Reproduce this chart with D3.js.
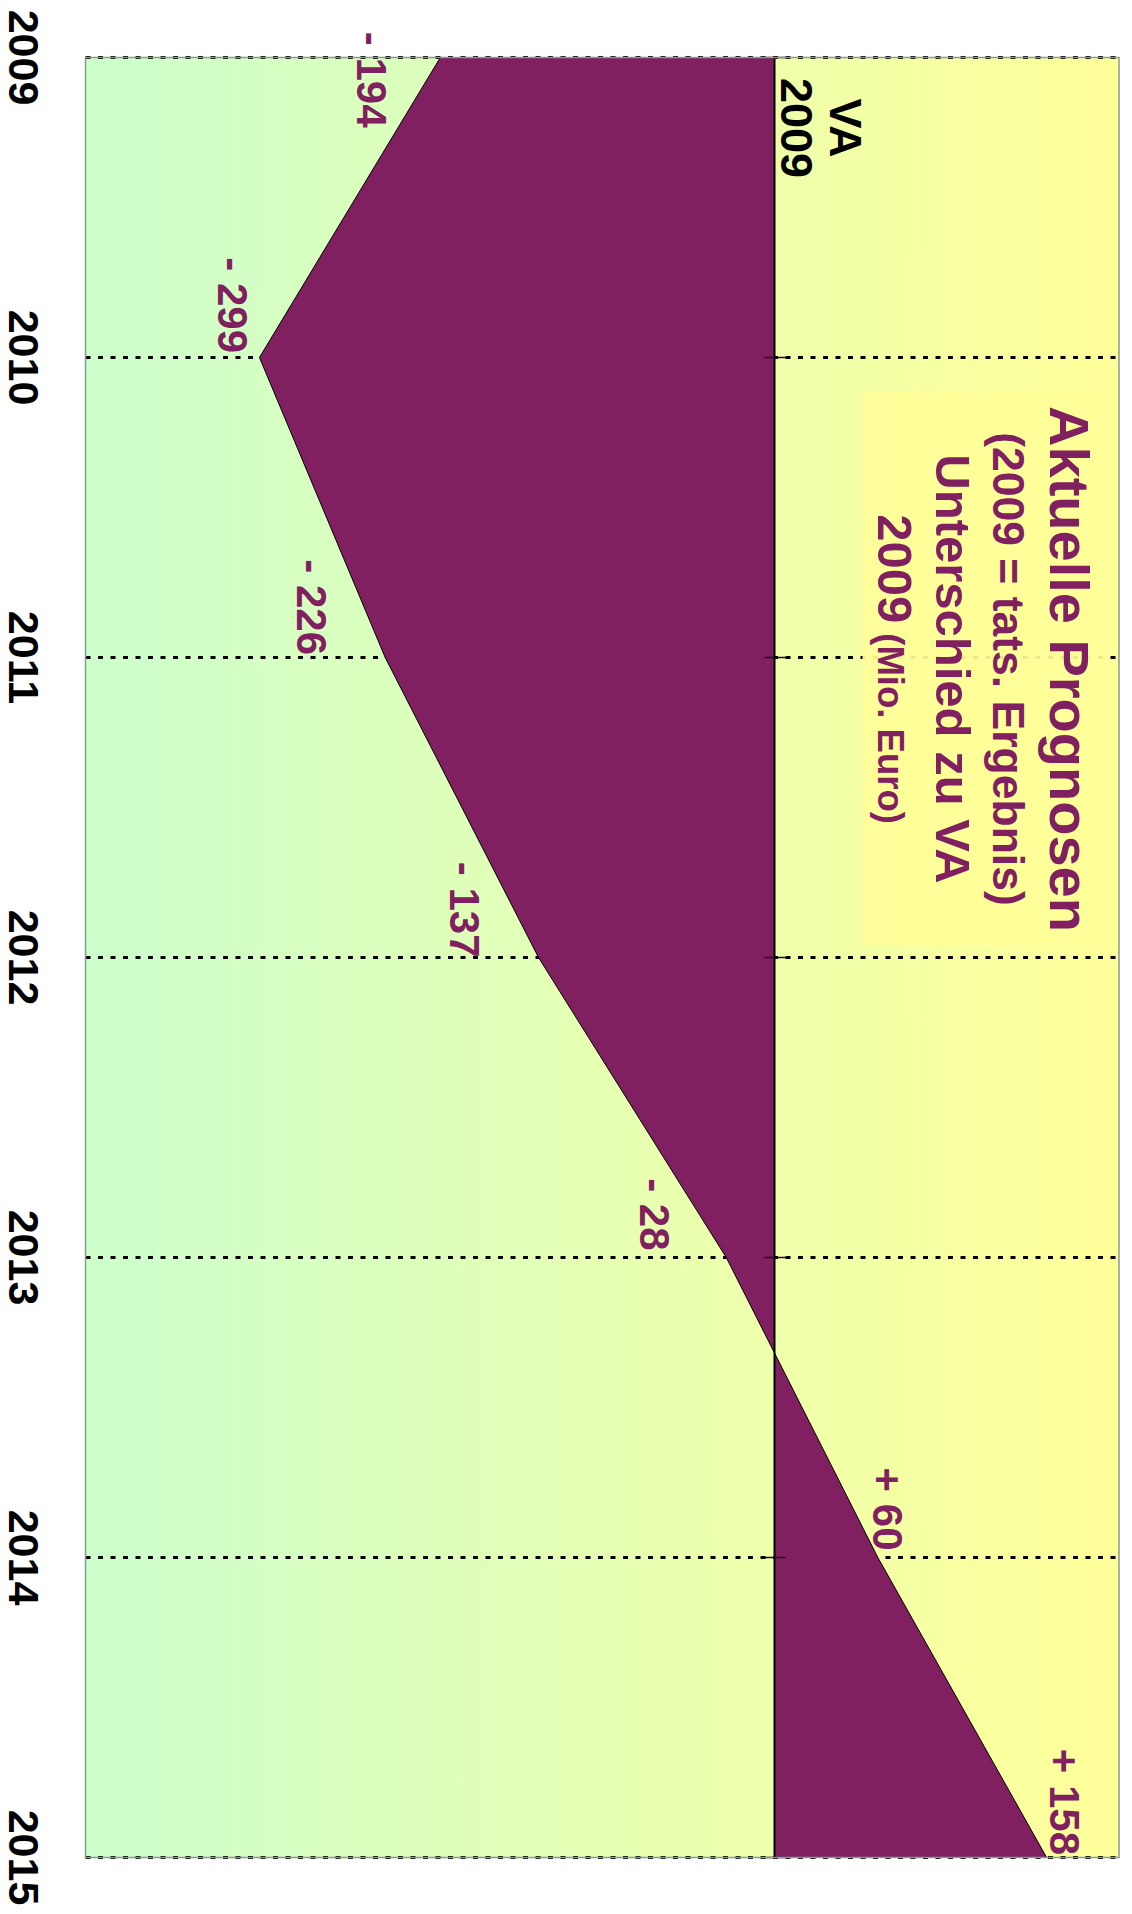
<!DOCTYPE html>
<html>
<head>
<meta charset="utf-8">
<script src="https://cdn.jsdelivr.net/npm/d3@7"></script>
<style>
  html, body { margin: 0; padding: 0; background: #ffffff; }
  svg { display: block; }
  text { font-family: "Liberation Sans", Arial, sans-serif; font-weight: bold; }
</style>
</head>
<body>
<svg id="chart" width="1132" height="1914"></svg>
<script>
// Forecast difference to the 2009 budget (Mio. Euro), per year
const years = [2009, 2010, 2011, 2012, 2013, 2014, 2015];
const diffs = [-194, -299, -226, -137, -28, 60, 158];
const valueDomain = [-400, 200];

// Text
const baseLabel = ["VA", "2009"];
const titleLines = ["Aktuelle Prognosen", "(2009 = tats. Ergebnis)", "Unterschied zu VA"];
const unitLine = ["2009", " (Mio. Euro)"];

const PURPLE = "#802060";
const data = years.map((yr, i) => ({ year: yr, value: diffs[i] }));

const svg = d3.select("#chart");
const plot = { left: 85.5, right: 1119, top: 57.5, bottom: 1857.5 };

// The chart is laid out on its side: years run downwards, values run left to right
const x = d3.scaleLinear().domain(valueDomain).range([plot.left, plot.right]);
const y = d3.scaleLinear().domain(d3.extent(years)).range([plot.top, plot.bottom]);

// Background gradient (green on the negative side to yellow on the positive side)
const defs = svg.append("defs");
const grad = defs.append("linearGradient")
  .attr("id", "bg").attr("x1", "0%").attr("x2", "100%").attr("y1", "0%").attr("y2", "0%");
grad.append("stop").attr("offset", "0%").attr("stop-color", "#ccffcc");
grad.append("stop").attr("offset", "100%").attr("stop-color", "#ffff99");

svg.append("rect")
  .attr("x", plot.left).attr("y", plot.top)
  .attr("width", plot.right - plot.left).attr("height", plot.bottom - plot.top)
  .attr("fill", "url(#bg)");

// Dotted year grid lines
svg.append("g").selectAll("line").data(years).join("line")
  .attr("x1", plot.left).attr("x2", plot.right)
  .attr("y1", d => y(d)).attr("y2", d => y(d))
  .attr("stroke", "#000").attr("stroke-width", 3)
  .attr("stroke-dasharray", "5 7.5");

// Title box
svg.append("rect")
  .attr("x", 862.5).attr("y", 391.5).attr("width", 246).attr("height", 554)
  .attr("fill", "#ffff99").attr("opacity", 0.92);

// Area between zero and the forecast differences
const area = d3.area()
  .y(d => y(d.year))
  .x0(x(0))
  .x1(d => x(d.value));

svg.append("path")
  .datum(data)
  .attr("d", area)
  .attr("fill", PURPLE)
  .attr("stroke", "#000").attr("stroke-width", 1).attr("stroke-linejoin", "round");

// Zero line with small year ticks
svg.append("line")
  .attr("x1", x(0)).attr("x2", x(0)).attr("y1", plot.top).attr("y2", plot.bottom)
  .attr("stroke", "#000").attr("stroke-width", 2);
svg.append("g").selectAll("line").data(years).join("line")
  .attr("x1", x(0) - 10).attr("x2", x(0) + 11)
  .attr("y1", d => y(d)).attr("y2", d => y(d))
  .attr("stroke", "#1a0a14").attr("stroke-width", 1.5);

// Plot frame
svg.append("rect")
  .attr("x", plot.left).attr("y", plot.top)
  .attr("width", plot.right - plot.left).attr("height", plot.bottom - plot.top)
  .attr("fill", "none").attr("stroke", "#8a9a8a").attr("stroke-width", 1.5);

// Rotated text helper (reads top to bottom)
function vtext(g, bx, cy, txt, size, fill, anchor) {
  return g.append("text")
    .attr("transform", `translate(${bx},${cy}) rotate(90)`)
    .attr("text-anchor", anchor || "middle")
    .attr("font-size", size)
    .attr("fill", fill)
    .text(txt);
}

// Year labels
const yearG = svg.append("g");
years.forEach(yr => vtext(yearG, 9, y(yr), String(yr), 43, "#000"));

// "VA 2009" baseline label beside the zero line
const baseG = svg.append("g");
vtext(baseG, x(0) + 55, 128, baseLabel[0], 45, "#000");
vtext(baseG, x(0) + 6, 128, baseLabel[1], 45, "#000");

// Value labels: nudges keep them clear of the area outline
const nudge = {
  2009: [-83, 70], 2010: [-41.5, -4.5], 2011: [-88, -2.5], 2012: [-88.5, 0],
  2013: [-86, -7], 2014: [-5, -7], 2015: [3, -2.5]
};
const fmt = v => (v < 0 ? "- " : "+ ") + Math.abs(v);
const valG = svg.append("g");
data.forEach(d => {
  const [dx, dy] = nudge[d.year];
  vtext(valG, x(d.value) + dx, y(d.year) + dy, fmt(d.value), 42, PURPLE, "end");
});

// Title block
const titleG = svg.append("g");
vtext(titleG, 1050, 669, titleLines[0], 56, PURPLE);
vtext(titleG, 993, 669, titleLines[1], 44.5, PURPLE);
vtext(titleG, 936, 669, titleLines[2], 49, PURPLE);
const unit = titleG.append("text")
  .attr("transform", `translate(878,669) rotate(90)`)
  .attr("text-anchor", "middle")
  .attr("fill", PURPLE);
unit.append("tspan").attr("font-size", 49).text(unitLine[0]);
unit.append("tspan").attr("font-size", 36.5).text(unitLine[1]);
</script>
</body>
</html>
